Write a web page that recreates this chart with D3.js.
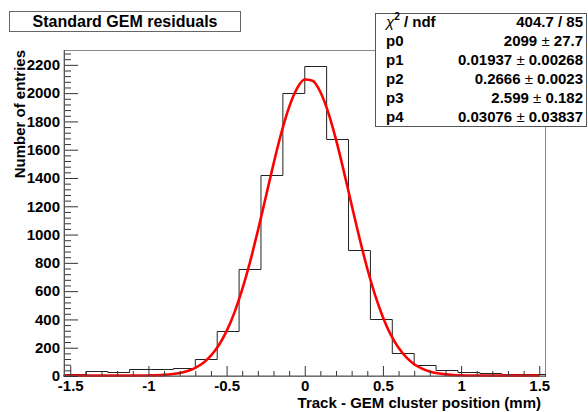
<!DOCTYPE html>
<html>
<head>
<meta charset="utf-8">
<script src="https://cdn.jsdelivr.net/npm/d3@7"></script>
<style>
  body { margin: 0; background: #fff; }
  text { font-family: "Liberation Sans", Arial, sans-serif; font-weight: bold; fill: #000; }
</style>
</head>
<body>
<script>
// histogram: bin edges (mm) and counts per bin
const binEdges = [-1.54, -1.40, -1.26, -1.12, -0.98, -0.84, -0.70, -0.56, -0.42, -0.28, -0.14, 0,
                  0.14, 0.28, 0.42, 0.56, 0.70, 0.84, 0.98, 1.12, 1.26, 1.40, 1.54];
const binCounts = [14, 33, 26, 47, 47, 59, 120, 320, 760, 1423, 2000,
                   2195, 1677, 889, 402, 160, 78, 42, 28, 19, 17, 14];

// red fit curve
const fitX = [-1.54, -1.2, -1.1, -1.0, -0.9, -0.8, -0.75, -0.7, -0.65, -0.6, -0.55, -0.5, -0.45, -0.4,
              -0.35, -0.3, -0.25, -0.2, -0.15, -0.1, -0.05, 0, 0.05, 0.1, 0.15, 0.2, 0.25, 0.3,
              0.35, 0.4, 0.45, 0.5, 0.55, 0.6, 0.65, 0.7, 0.75, 0.8, 0.85, 0.9, 0.95, 1.0, 1.1,
              1.2, 1.5];
const fitY = [2.6, 2.6, 2.9, 4, 8, 21, 35, 58, 92, 144, 217, 317, 448, 612,
              806, 1027, 1262, 1499, 1718, 1901, 2032, 2096, 2088, 2008, 1864, 1671, 1447, 1209,
              976, 760, 572, 416, 292, 199, 131, 83, 52, 31.5, 19, 11.6, 7.3, 5, 3.2,
              2.6, 2.65];

const xMajor = [-1.5, -1, -0.5, 0, 0.5, 1, 1.5];
const xMinor = [-1.4, -1.3, -1.2, -1.1, -0.9, -0.8, -0.7, -0.6, -0.4, -0.3, -0.2, -0.1,
                0.1, 0.2, 0.3, 0.4, 0.6, 0.7, 0.8, 0.9, 1.1, 1.2, 1.3, 1.4];
const yMajor = [0, 200, 400, 600, 800, 1000, 1200, 1400, 1600, 1800, 2000, 2200];
const yMinor = [40, 80, 120, 160, 240, 280, 320, 360, 440, 480, 520, 560, 640, 680, 720, 760,
                840, 880, 920, 960, 1040, 1080, 1120, 1160, 1240, 1280, 1320, 1360, 1440, 1480,
                1520, 1560, 1640, 1680, 1720, 1760, 1840, 1880, 1920, 1960, 2040, 2080, 2120, 2160,
                2240, 2280];

const statNames = ['p0', 'p1', 'p2', 'p3', 'p4'];
const statValues = ['2099', '0.01937', '0.2666', '2.599', '0.03076'];
const statErrors = ['27.7', '0.00268', '0.0023', '0.182', '0.03837'];
const chi2 = '404.7', ndf = '85';

const W = 588, H = 412;
const frame = {left: 64, right: 545.5, top: 50, bottom: 376};

const svg = d3.select('body').append('svg')
    .attr('width', W)
    .attr('height', H);

const x = d3.scaleLinear().domain([-1.54, 1.54]).range([frame.left, frame.right]);
const y = d3.scaleLinear().domain([0, 2305]).range([frame.bottom, frame.top]);

// frame
svg.append('rect')
    .attr('x', frame.left).attr('y', frame.top + 0.5)
    .attr('width', frame.right - frame.left).attr('height', frame.bottom - frame.top)
    .attr('fill', 'none').attr('stroke', '#888');

// histogram outline as steps
let steps = [[binEdges[0], 0]];
binCounts.forEach((c, i) => {
    steps.push([binEdges[i], c]);
    steps.push([binEdges[i + 1], c]);
});
steps.push([binEdges[binEdges.length - 1], 0]);
svg.append('path')
    .attr('d', d3.line().x(d => x(d[0])).y(d => Math.round(y(d[1])) + 0.5)(steps))
    .attr('fill', 'none')
    .attr('stroke', '#222')
    .attr('stroke-width', 1);

// fit curve
svg.append('path')
    .datum(fitX.map((v, i) => [v, fitY[i]]))
    .attr('d', d3.line().curve(d3.curveMonotoneX).x(d => x(d[0])).y(d => y(d[1])))
    .attr('fill', 'none')
    .attr('stroke', '#ff0000')
    .attr('stroke-width', 2.6)
    .attr('stroke-linejoin', 'round');

// axes (ticks point into the frame)
let gx = svg.append('g').attr('transform', `translate(0,${frame.bottom})`);
gx.append('g').call(d3.axisBottom(x).tickValues(xMinor).tickSize(-5).tickFormat(''));
gx.append('g').call(d3.axisBottom(x).tickValues(xMajor).tickSize(-10).tickPadding(4)
    .tickFormat(d => String(d)));
svg.append('line')
    .attr('x1', frame.left).attr('x2', frame.right)
    .attr('y1', frame.bottom).attr('y2', frame.bottom)
    .attr('stroke', '#555');

let gy = svg.append('g').attr('transform', `translate(${frame.left},0)`);
gy.append('g').call(d3.axisLeft(y).tickValues(yMinor).tickSize(-7).tickFormat(''));
gy.append('g').call(d3.axisLeft(y).tickValues(yMajor).tickSize(-14).tickPadding(4).tickFormat(d3.format('d')));
svg.append('line')
    .attr('x1', frame.left + 0.5).attr('x2', frame.left + 0.5)
    .attr('y1', frame.top).attr('y2', frame.bottom)
    .attr('stroke', '#555');

svg.selectAll('.domain').remove();
// minor axes carry no labels
svg.selectAll('.tick text').filter(function () { return this.textContent === ''; }).remove();
svg.selectAll('.tick line').attr('stroke', '#333');
svg.selectAll('.tick text')
    .style('font-family', '"Liberation Sans", Arial, sans-serif')
    .style('font-weight', 'bold')
    .style('font-size', '15px')
    .attr('fill', '#000');

// axis titles
svg.append('text')
    .attr('x', 541).attr('y', 407.5)
    .attr('text-anchor', 'end')
    .style('font-size', '15px')
    .text('Track - GEM cluster position (mm)');

svg.append('text')
    .attr('transform', 'translate(25,50) rotate(-90)')
    .attr('text-anchor', 'end')
    .style('font-size', '15px')
    .text('Number of entries');

// title box
svg.append('rect')
    .attr('x', 9.5).attr('y', 11.5).attr('width', 231).attr('height', 20)
    .attr('fill', '#fff').attr('stroke', '#666');
svg.append('text')
    .attr('x', 125).attr('y', 27)
    .attr('text-anchor', 'middle')
    .style('font-size', '16px')
    .text('Standard GEM residuals');

// stats box
svg.append('rect')
    .attr('x', 375.5).attr('y', 13.5).attr('width', 211).attr('height', 113)
    .attr('fill', '#fff').attr('stroke', '#555');

const rowY = d3.scaleLinear().domain([0, 5]).range([26.5, 121.5]);
const stat = svg.append('g').style('font-size', '15px');

let chiLabel = stat.append('text').attr('x', 386).attr('y', rowY(0));
chiLabel.append('tspan').style('font-weight', 'normal').style('font-style', 'italic').text('χ');
chiLabel.append('tspan').attr('dy', -7).style('font-size', '10px').text('2');
chiLabel.append('tspan').attr('dy', 7).text(' / ndf');
stat.append('text').attr('x', 583).attr('y', rowY(0)).attr('text-anchor', 'end')
    .text(`${chi2} / ${ndf}`);

statNames.forEach((n, i) => {
    stat.append('text').attr('x', 386).attr('y', rowY(i + 1)).text(n);
    let t = stat.append('text').attr('x', 583).attr('y', rowY(i + 1)).attr('text-anchor', 'end');
    t.append('tspan').text(statValues[i] + ' ');
    t.append('tspan').style('font-weight', 'normal').text('±');
    t.append('tspan').text(' ' + statErrors[i]);
});
</script>
</body>
</html>
